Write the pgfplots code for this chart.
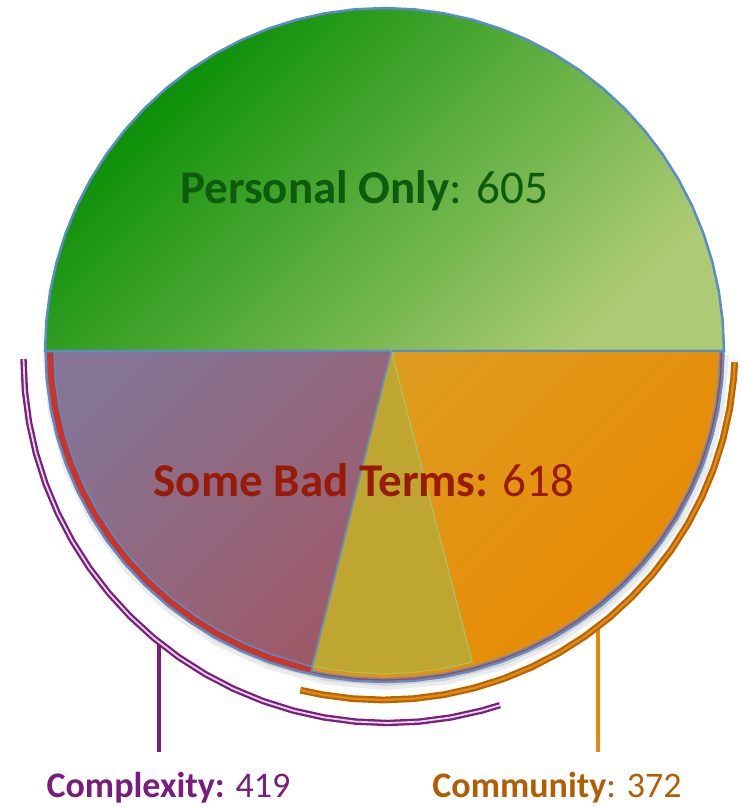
\documentclass[border=0pt]{standalone}
\usepackage{pgfplots}
\pgfplotsset{compat=1.18}
\usepackage{fontspec}
\setmainfont{Carlito}
\definecolor{rimblue}{HTML}{5A8CC8}
\definecolor{gtop}{HTML}{008C00}
\definecolor{gbot}{HTML}{ADCB74}
\definecolor{redbase}{HTML}{C8352A}
\definecolor{purtop}{HTML}{857494}
\definecolor{purbot}{HTML}{9E5A68}
\definecolor{orgtop}{HTML}{DE9C1E}
\definecolor{orgbot}{HTML}{E98800}
\definecolor{yel}{HTML}{BFA630}
\definecolor{yeledge}{HTML}{A8C35E}
\definecolor{arcpur}{HTML}{7B1E7E}
\definecolor{arcpurcore}{HTML}{E6D4E8}
\definecolor{arcorg}{HTML}{BA6400}
\definecolor{arcorgcore}{HTML}{E38B14}
\definecolor{lineorg}{HTML}{E8870E}
\definecolor{txtgreen}{HTML}{0D5B0D}
\definecolor{txtred}{HTML}{9A1A08}
\definecolor{txtpur}{HTML}{7A1C7D}
\definecolor{txtorg}{HTML}{B15E05}
\pgfplotsset{base/.style={hide axis, clip=false, anchor=origin}}
\begin{document}
\begin{tikzpicture}
\useasboundingbox (-384.5pt,-456pt) rectangle (357.5pt,351pt);
% ---------- soft shadow under the lower half ----------
\begin{axis}[base, at={(1.5pt,-4pt)}, x=339pt, y=331pt, xmin=-1, xmax=1, ymin=-1, ymax=0]
\addplot[data cs=polar, draw=none, fill=black, fill opacity=0.10]
 coordinates {(180,1) (190,1) (200,1) (210,1) (220,1) (230,1) (240,1) (250,1) (260,1) (270,1)
 (280,1) (290,1) (300,1) (310,1) (320,1) (330,1) (340,1) (350,1) (360,1)} -- cycle;
\addplot[data cs=polar, draw=none, fill=black, fill opacity=0.08]
 coordinates {(180,1.012) (190,1.012) (200,1.012) (210,1.012) (220,1.012) (230,1.012) (240,1.012)
 (250,1.012) (260,1.012) (270,1.012) (280,1.012) (290,1.012) (300,1.012) (310,1.012) (320,1.012)
 (330,1.012) (340,1.012) (350,1.012) (360,1.012)} -- cycle;
\end{axis}
% ---------- Complexity arc (centre offset) ----------
\begin{axis}[base, at={(3pt,-8pt)}, x=1pt, y=1pt, xmin=-365, xmax=120, ymin=-366, ymax=0]
\addplot[arcpur, line width=4pt] coordinates {(-228,-283) (-228,-393)};
\addplot[data cs=polar, draw=arcpur, line width=2.3pt, double=arcpurcore, double distance=1.8pt]
 coordinates {(180,364) (185,364) (190,364) (195,364) (200,364) (205,364) (210,364) (215,364)
 (220,364) (225,364) (230,364) (235,364) (240,364) (245,364) (250,364) (255,364) (260,364)
 (265,364) (270,364) (275,364) (280,364) (285,364) (288,364)};
\end{axis}
% ---------- Community arc ----------
\begin{axis}[base, at={(-1.5pt,3pt)}, x=1pt, y=1pt, xmin=-90, xmax=355, ymin=-355, ymax=0]
\addplot[lineorg, line width=4pt] coordinates {(215,-279) (215,-404)};
\addplot[data cs=polar, draw=arcorg, line width=2.3pt, double=arcorgcore, double distance=2.2pt]
 coordinates {(256.4,352) (260,352) (265,352) (270,352) (275,352) (280,352) (285,352) (290,352)
 (295,352) (300,352) (305,352) (310,352) (315,352) (320,352) (325,352) (330,352) (335,352)
 (340,352) (345,352) (350,352) (355,352) (357.7,352)};
\end{axis}
% ---------- Top half: Personal Only ----------
\begin{axis}[base, at={(0pt,0pt)}, x=339.5pt, y=343pt, xmin=-1, xmax=1, ymin=0, ymax=1]
\addplot[data cs=polar, draw=rimblue, line width=2.5pt, top color=gtop, bottom color=gbot, shading angle=45]
 coordinates {(0,1) (5,1) (10,1) (15,1) (20,1) (25,1) (30,1) (35,1) (40,1) (45,1) (50,1) (55,1)
 (60,1) (65,1) (70,1) (75,1) (80,1) (85,1) (90,1) (95,1) (100,1) (105,1) (110,1) (115,1) (120,1)
 (125,1) (130,1) (135,1) (140,1) (145,1) (150,1) (155,1) (160,1) (165,1) (170,1) (175,1) (180,1)} -- cycle;
\end{axis}
% ---------- Bottom half: Some Bad Terms, Complexity, Community ----------
\begin{axis}[base, at={(0pt,0pt)}, x=339pt, y=331pt, xmin=-1, xmax=1, ymin=-1, ymax=0]
\addplot[data cs=polar, draw=rimblue, line width=2.5pt, fill=redbase]
 coordinates {(180,1) (185,1) (190,1) (195,1) (200,1) (205,1) (210,1) (215,1) (220,1) (225,1)
 (230,1) (235,1) (240,1) (245,1) (250,1) (255,1) (260,1) (265,1) (270,1) (275,1) (280,1) (285,1)
 (290,1) (295,1) (300,1) (305,1) (310,1) (315,1) (320,1) (325,1) (330,1) (335,1) (340,1) (345,1)
 (350,1) (355,1) (360,1)} -- cycle;
\addplot[data cs=polar, draw=rimblue, line width=1.5pt, top color=orgtop, bottom color=orgbot, shading angle=45]
 coordinates {(0,0.02) (257.4,0.99) (260,0.99) (265,0.99) (270,0.99) (275,0.99) (280,0.99)
 (285,0.99) (290,0.99) (295,0.99) (300,0.99) (305,0.99) (310,0.99) (315,0.99) (320,0.99)
 (325,0.99) (330,0.99) (335,0.99) (340,0.99) (345,0.99) (350,0.99) (355,0.99) (360,0.99)} -- cycle;
\addplot[data cs=polar, draw=rimblue, line width=1.5pt, top color=purtop, bottom color=purbot, shading angle=45]
 coordinates {(0,0.02) (180,0.975) (185,0.975) (190,0.975) (195,0.975) (200,0.975) (205,0.975)
 (210,0.975) (215,0.975) (220,0.975) (225,0.975) (230,0.975) (235,0.975) (240,0.975) (245,0.975)
 (250,0.975) (255,0.975) (257.4,0.978)} -- cycle;
\addplot[data cs=polar, draw=yeledge, line width=1.2pt, fill=yel]
 coordinates {(0,0.02) (257.4,0.975) (260,0.975) (265,0.975) (270,0.975) (275,0.975) (280,0.975)
 (285,0.975) (285.4,0.975)} -- cycle;
\addplot[data cs=polar, draw=rimblue, line width=1.5pt] coordinates {(0,0.02) (257.4,0.99)};
\end{axis}
% ---------- Labels ----------
\begin{axis}[base, at={(0pt,0pt)}, x=1pt, y=1pt, xmin=-384.5, xmax=357.5, ymin=-456, ymax=351]
\node[anchor=base, text=txtgreen, font=\fontsize{47}{50}\selectfont, inner sep=0pt]
  at (axis cs:-20.5,148) {\textbf{Personal Only}: 605};
\node[anchor=base, text=txtred, font=\fontsize{47}{50}\selectfont, inner sep=0pt]
  at (axis cs:-20.5,-145) {\textbf{Some Bad Terms:} 618};
\node[anchor=base, text=txtpur, font=\fontsize{36}{40}\selectfont, inner sep=0pt]
  at (axis cs:-216,-446) {\textbf{Complexity:} 419};
\node[anchor=base, text=txtorg, font=\fontsize{36}{40}\selectfont, inner sep=0pt]
  at (axis cs:172.5,-446) {\textbf{Community}: 372};
\end{axis}
\end{tikzpicture}
\end{document}
